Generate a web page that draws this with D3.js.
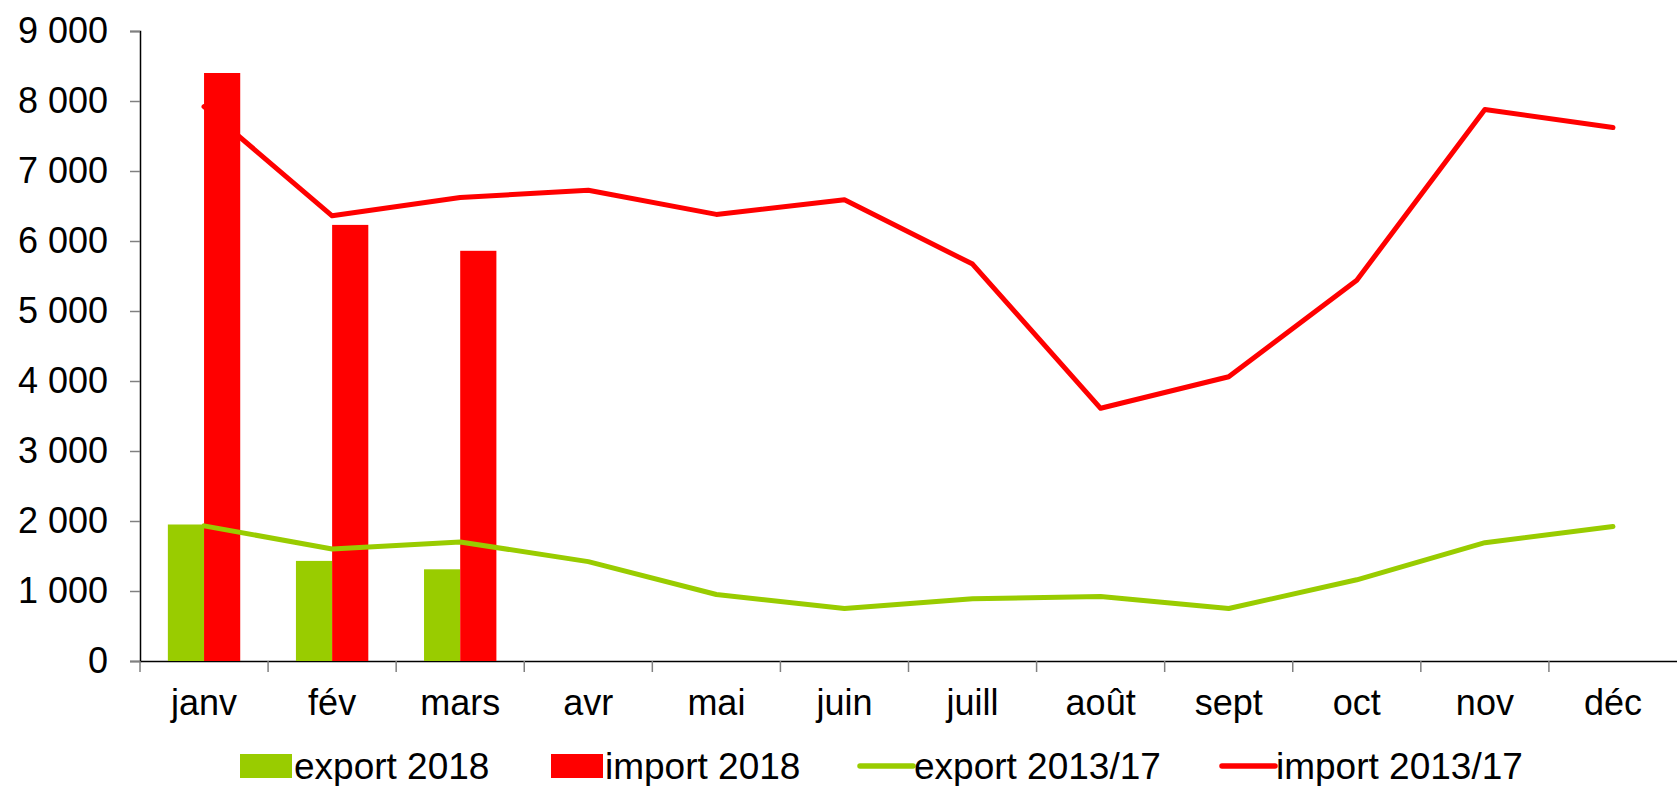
<!DOCTYPE html>
<html>
<head>
<meta charset="utf-8">
<script src="https://cdn.jsdelivr.net/npm/d3@7"></script>
<style>
  body { margin: 0; background: #fff; }
  text { font-family: "Liberation Sans", Arial, sans-serif; fill: #000; }
</style>
</head>
<body>
<svg width="1677" height="786"></svg>
<script>
const months = ["janv", "fév", "mars", "avr", "mai", "juin", "juill", "août", "sept", "oct", "nov", "déc"];
const export2018 = [1950, 1430, 1310];
const import2018 = [8400, 6230, 5860];
const export1317 = [1930, 1600, 1700, 1420, 950, 750, 890, 920, 750, 1160, 1690, 1920];
const import1317 = [7920, 6360, 6620, 6725, 6380, 6590, 5670, 3610, 4060, 5440, 7880, 7620];
const yTicks = [0, 1000, 2000, 3000, 4000, 5000, 6000, 7000, 8000, 9000];

const green = "#99cc00", red = "#ff0000";

const svg = d3.select("svg"),
  width = +svg.attr("width"),
  height = +svg.attr("height");

const x = d3.scaleBand().domain(months).range([140, 1677]).padding(0);
const xSub = d3.scaleBand().domain(["export", "import"]).range([0, x.bandwidth()]).paddingInner(0).paddingOuter(0.77);
const y = d3.scaleLinear().domain([0, 9000]).range([661, 31]);

const fmt = d => d3.format(",")(d).replace(",", " ");

// y axis
const yAxis = svg.append("g").attr("transform", "translate(140,0)")
  .call(d3.axisLeft(y).tickValues(yTicks).tickSize(10).tickPadding(22).tickFormat(fmt));
yAxis.select(".domain").attr("stroke", "#000").attr("stroke-width", 1.5);
yAxis.selectAll(".tick line").attr("stroke", "#808080").attr("stroke-width", 1.5);
yAxis.selectAll(".tick text").style("font-size", "36px").attr("font-family", null);

// x axis
const xAxis = svg.append("g").attr("transform", "translate(0,661)")
  .call(d3.axisBottom(x).tickSize(0).tickPadding(28));
xAxis.select(".domain").attr("stroke", "#000").attr("stroke-width", 1.5);
xAxis.selectAll(".tick text").style("font-size", "36px").attr("font-family", null).attr("dy", "0.71em");
// boundary ticks between categories
svg.append("g").selectAll("line")
  .data(months)
  .join("line")
  .attr("x1", d => x(d)).attr("x2", d => x(d))
  .attr("y1", 661).attr("y2", 672)
  .attr("stroke", "#808080").attr("stroke-width", 1.5);

// bars
const bars = svg.append("g");
bars.selectAll("rect.exp")
  .data(export2018)
  .join("rect")
  .attr("class", "exp")
  .attr("x", (d, i) => x(months[i]) + xSub("export"))
  .attr("y", d => y(d))
  .attr("width", xSub.bandwidth())
  .attr("height", d => y(0) - y(d))
  .style("fill", green);
bars.selectAll("rect.imp")
  .data(import2018)
  .join("rect")
  .attr("class", "imp")
  .attr("x", (d, i) => x(months[i]) + xSub("import"))
  .attr("y", d => y(d))
  .attr("width", xSub.bandwidth())
  .attr("height", d => y(0) - y(d))
  .style("fill", red);

// lines
const line = d3.line()
  .x((d, i) => x(months[i]) + x.bandwidth() / 2)
  .y(d => y(d));
svg.append("path").datum(import1317)
  .attr("d", line).attr("fill", "none").attr("stroke", red).attr("stroke-width", 5)
  .attr("stroke-linejoin", "round").attr("stroke-linecap", "round");
svg.append("path").datum(export1317)
  .attr("d", line).attr("fill", "none").attr("stroke", green).attr("stroke-width", 5)
  .attr("stroke-linejoin", "round").attr("stroke-linecap", "round");

// legend
const legendY = 766;
const legendItems = [
  { label: "export 2018", color: green, type: "rect", x: 240 },
  { label: "import 2018", color: red, type: "rect", x: 551 },
  { label: "export 2013/17", color: green, type: "line", x: 860 },
  { label: "import 2013/17", color: red, type: "line", x: 1222 }
];
const lg = svg.append("g");
legendItems.forEach(function (it) {
  if (it.type === "rect") {
    lg.append("rect").attr("x", it.x).attr("y", legendY - 12).attr("width", 52).attr("height", 24).style("fill", it.color);
  } else {
    lg.append("line").attr("x1", it.x).attr("x2", it.x + 53).attr("y1", legendY).attr("y2", legendY)
      .attr("stroke", it.color).attr("stroke-width", 5.5).attr("stroke-linecap", "round");
  }
  lg.append("text").attr("x", it.x + 54).attr("y", legendY).attr("dy", "0.36em")
    .text(it.label).style("font-size", "37px");
});
</script>
</body>
</html>
